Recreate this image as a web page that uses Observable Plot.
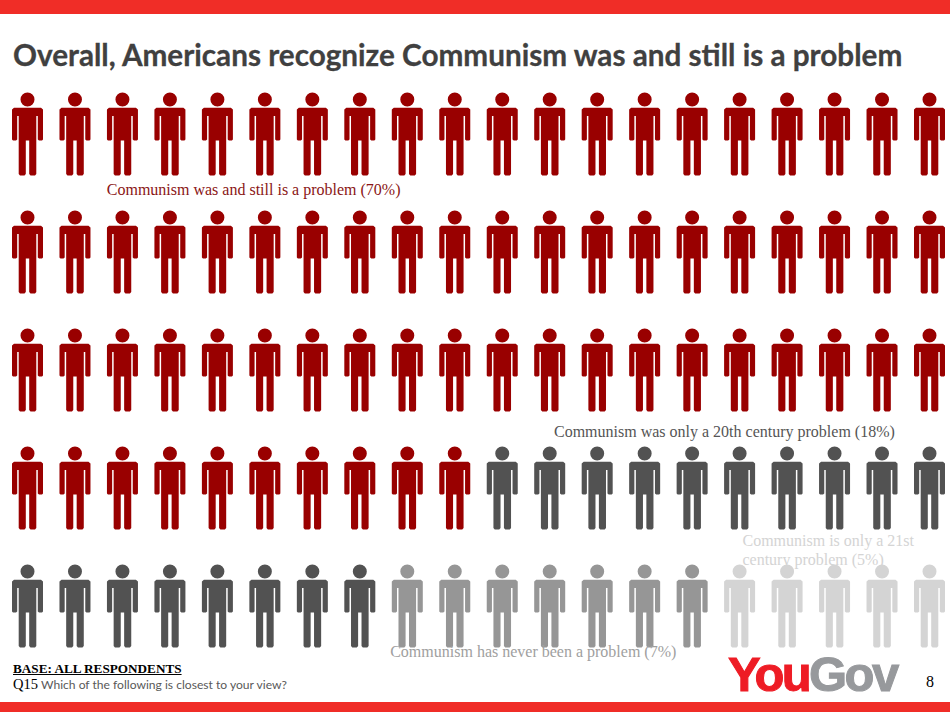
<!DOCTYPE html>
<html><head><meta charset="utf-8">
<script src="https://cdn.jsdelivr.net/npm/d3@7"></script>
<script src="https://cdn.jsdelivr.net/npm/@observablehq/plot@0.6"></script>
<style>
html,body{margin:0;padding:0;background:#fff;width:950px;height:712px;overflow:hidden}
#chart{position:absolute;left:0;top:0}
.a{position:absolute;white-space:nowrap}
</style></head><body>
<div id="chart"></div>
<div class="a" style="left:0;top:0;width:950px;height:14px;background:#f02d27"></div>
<div class="a" style="left:0;top:702px;width:950px;height:10px;background:#f02d27"></div>
<div class="a" id="title" style="left:13px;top:37px;font:bold 29.7px Lato,sans-serif;color:#404040;-webkit-text-stroke:0.3px #404040">Overall, Americans recognize Communism was and still is a problem</div>
<div class="a" style="left:13px;top:661px;font:bold 13.2px 'Liberation Serif',serif;color:#000;text-decoration:underline">BASE: ALL RESPONDENTS</div>
<div class="a" style="left:13px;top:676px;font:12.1px Lato,sans-serif;color:#595959"><span style="font-family:'Liberation Serif',serif;font-size:14.5px;color:#000">Q15</span> Which of the following is closest to your view?</div>
<div class="a" style="left:728px;top:646px;font:bold 49px/56px 'Liberation Sans',sans-serif;letter-spacing:-2.6px;-webkit-text-stroke:1px currentColor;color:#ee1c25">You<span style="color:#97999c">Gov</span></div>
<div class="a" style="left:926px;top:673px;font:16px 'Liberation Serif',serif;color:#000">8</div>
<script>
const categories = ["Communism was and still is a problem","Communism was only a 20th century problem","Communism has never been a problem","Communism is only a 21st century problem"];
const shares = [70, 18, 7, 5];
const perRow = 20;
const tones = ["#990000","#525252","#969696","#d4d4d4"];

const people = categories.flatMap((c,i)=>d3.range(shares[i]).map(()=>({category:c})));
people.forEach((p,i)=>{p.col=i%perRow;p.row=Math.floor(i/perRow);});

// Person pictogram, drawn around its centre; scales with the dot radius.
const person = {draw(ctx,size){
  const k=Math.sqrt(size/Math.PI)/10;
  const P=(pts)=>{pts.forEach(([x,y],i)=>i?ctx.lineTo(x*k,y*k):ctx.moveTo(x*k,y*k));ctx.closePath();};
  ctx.moveTo(7*k,-34.5*k);ctx.arc(0,-34.5*k,7*k,0,2*Math.PI);ctx.closePath();
  P([[-13.5,-26.2],[13.5,-26.2],[15.5,-24.5],[15.5,5.5],[14.5,6.5],[11.5,6.5],[10.3,5.5],[10.3,-18],[8.8,-18],
     [8.8,40],[7.5,41.5],[3,41.5],[1.7,40],[1.7,6.5],[-1.7,6.5],[-1.7,40],[-3,41.5],[-7.5,41.5],[-8.8,40],
     [-8.8,-18],[-10.3,-18],[-10.3,5.5],[-11.5,6.5],[-14.5,6.5],[-15.5,5.5],[-15.5,-24.5]]);
}};

const serif = "'Liberation Serif',serif";
const note = (text,x,y,fill)=>Plot.text([text],{x:()=>x,y:()=>y,text:d=>d,textAnchor:"start",lineAnchor:"middle",fontFamily:serif,fontSize:16,lineHeight:1.19,fill});

const chart = Plot.plot({
  width:950,height:712,margin:0,
  x:{domain:[0,19],range:[27,929],axis:null},
  y:{domain:[0,4],range:[133.5,605.5],axis:null},
  color:{domain:categories,range:tones},
  style:{background:"transparent"},
  marks:[
    Plot.dot(people,{x:"col",y:"row",r:10,fill:"category",stroke:"none",symbol:person}),
    note("Communism was and still is a problem (70%)",1.67,0.465,"#8a1515"),
    note("Communism was only a 20th century problem (18%)",11.09,2.515,"#555555"),
    note("Communism is only a 21st\ncentury problem (5%)",15.06,3.52,"#d4d4d4"),
    note("Communism has never been a problem (7%)",7.64,4.38,"#a0a0a0")
  ]
});
document.getElementById("chart").append(chart);
</script>
</body></html>
